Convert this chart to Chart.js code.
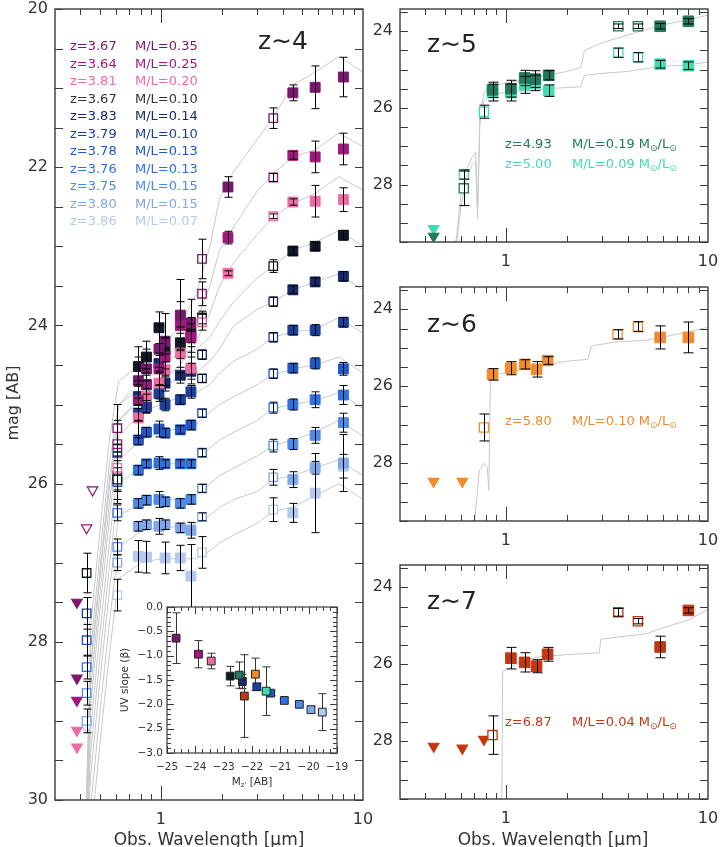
<!DOCTYPE html>
<html>
<head>
<meta charset="utf-8">
<script src="https://cdn.jsdelivr.net/npm/chart.js@4.4.1/dist/chart.umd.min.js"></script>
<style>
  body { margin: 0; background: #fff; width: 723px; height: 847px; overflow: hidden; position: relative; }
  canvas { position: absolute; }
</style>
</head>
<body>
<canvas id="z4-chart" width="380" height="847" style="left:0;top:0"></canvas>
<canvas id="z5-chart" width="363" height="278" style="left:360px;top:0"></canvas>
<canvas id="z6-chart" width="363" height="278" style="left:360px;top:278px"></canvas>
<canvas id="z7-chart" width="363" height="291" style="left:360px;top:556px"></canvas>
<canvas id="inset-chart" width="245" height="200" style="left:110px;top:596px"></canvas>
<script>
// ---- z~4 : 11 galaxies ----
const z4Redshift = [3.67, 3.64, 3.81, 3.67, 3.83, 3.79, 3.78, 3.76, 3.75, 3.80, 3.86];
const z4MtoL     = [0.35, 0.25, 0.20, 0.10, 0.14, 0.10, 0.13, 0.13, 0.15, 0.15, 0.07];
const z4Colors   = ['#7a1670','#a3167f','#f06aa6','#101828','#15296b','#1b3f9e','#1f58c9','#2f70e0','#4b8ae8','#7ea7ec','#b3c9f1'];

const z4FilledBands = [0.775, 0.85, 0.98, 1.05, 1.25, 1.41, 2.15, 4.5, 5.8, 8.0];
const z4Filled = [
  [24.70, 24.55, 24.30, 24.20, 23.87, 23.97, 22.25, 21.06, 20.99, 20.86],
  [24.95, 24.75, 24.55, 24.40, 24.00, 24.15, 22.89, 21.85, 21.87, 21.77],
  [25.17, 24.90, 24.73, 24.56, 24.35, 24.54, 23.34, 22.44, 22.43, 22.41],
  [24.52, 24.40, 24.03, 24.31, 24.22, 24.10, null, 23.06, 23.00, 22.86],
  [24.90, 24.75, 24.48, 24.73, 24.63, 24.58, null, 23.55, 23.45, 23.38],
  [25.11, 25.03, 24.86, 25.00, 24.94, 24.84, null, 24.06, 24.06, 23.96],
  [25.45, 25.35, 25.31, 25.36, 25.32, 25.26, null, 24.54, 24.48, 24.55],
  [25.83, 25.75, 25.74, 25.75, 25.75, 25.75, null, 25.00, 24.94, 24.88],
  [26.25, 26.21, 26.20, 26.23, 26.25, 26.20, null, 25.50, 25.39, 25.23],
  [26.54, 26.52, 26.54, 26.52, 26.56, 26.59, null, 25.95, 25.80, 25.74],
  [26.92, 26.93, null, 26.94, 26.94, 27.17, null, 26.37, 26.12, 25.78]
];
const z4FilledErr = [
  [0.30, 0.25, 0.30, 0.35, 0.45, 0.30, 0.13, 0.10, 0.27, 0.25],
  [0.25, 0.20, 0.20, 0.25, 0.30, 0.25, 0.08, 0.05, 0.20, 0.20],
  [0.25, 0.20, 0.20, 0.20, 0.25, 0.20, 0.03, 0.04, 0.20, 0.15],
  [0.25, 0.20, 0.20, 0.15, 0.20, 0.12, null, 0.05, 0.05, 0.06],
  [0.15, 0.12, 0.10, 0.10, 0.10, 0.10, null, 0.05, 0.05, 0.06],
  [0.10, 0.08, 0.10, 0.08, 0.06, 0.08, null, 0.06, 0.07, 0.06],
  [0.06, 0.06, 0.10, 0.06, 0.05, 0.06, null, 0.06, 0.07, 0.08],
  [0.06, 0.05, 0.08, 0.05, 0.05, 0.05, null, 0.07, 0.10, 0.12],
  [0.06, 0.06, 0.10, 0.06, 0.06, 0.06, null, 0.07, 0.10, 0.12],
  [0.06, 0.06, 0.10, 0.06, 0.06, 0.10, null, 0.10, 0.08, 0.36],
  [0.20, 0.20, null, 0.20, 0.16, 0.40, null, 0.12, 0.50, 0.15]
];
const z4OpenBands = [0.43, 0.61, 1.6, 3.6];
const z4Open = [
  [null, 25.30, 23.16, 21.38],
  [null, 25.50, 23.60, 22.13],
  [null, 25.80, 23.96, 22.62],
  [27.13, 25.95, 23.90, 23.25],
  [null, 25.90, 24.37, 23.70],
  [27.64, 25.61, 24.67, 24.15],
  [27.98, 25.98, 25.11, 24.61],
  [28.32, 26.37, 25.61, 25.04],
  [28.65, 26.80, 26.06, 25.52],
  [29.00, 27.00, 26.42, 25.92],
  [null, 27.41, 26.87, 26.33]
];
const z4OpenErr = [
  [null, 0.30, 0.25, 0.13],
  [null, 0.30, 0.15, 0.05],
  [null, 0.30, 0.10, 0.03],
  [0.25, 0.30, 0.08, 0.08],
  [null, 0.30, 0.06, 0.06],
  [0.20, 0.10, 0.05, 0.06],
  [0.20, 0.10, 0.05, 0.06],
  [0.15, 0.10, 0.05, 0.07],
  [0.15, 0.10, 0.05, 0.08],
  [0.15, 0.10, 0.05, 0.10],
  [null, 0.20, 0.20, 0.15]
];
// upper limits
const z4UlLam = [0.385, 0.385, 0.385, 0.385, 0.385];
const z4UlMag = [27.50, 28.46, 28.74, 29.12, 29.33];
const z4UlGal = [0, 0, 1, 2, 2];
const z4UlOpenLam = [0.46, 0.43, 0.43];
const z4UlOpenMag = [26.08, 26.56, 29.08];
const z4UlOpenGal = [0, 1, 10];
// best-fit model spectra
const z4ModelLam = [0.42, 0.45, 0.50, 0.56, 0.62, 0.80, 1.00, 1.25, 1.50, 1.75, 1.95, 2.30, 3.00, 3.60, 4.50, 5.80, 7.60, 10.0];
const z4Models = [
  [31, 27.8, 26.6, 25.4, 24.7, 24.5, 24.3, 24.0, 23.6, 23.0, 22.4, 22.05, 21.65, 21.37, 20.96, 20.8, 20.6, 20.8],
  [31, 28.1, 26.9, 25.7, 25.0, 24.8, 24.5, 24.2, 23.95, 23.5, 23.05, 22.75, 22.3, 22.08, 21.87, 21.78, 21.57, 21.74],
  [31, 28.3, 27.1, 25.9, 25.2, 24.9, 24.7, 24.5, 24.2, 23.85, 23.5, 23.2, 22.85, 22.63, 22.46, 22.33, 22.12, 22.29],
  [31, 28.4, 27.2, 26.0, 25.0, 24.7, 24.5, 24.35, 24.3, 24.15, 23.95, 23.7, 23.4, 23.25, 23.05, 22.95, 22.8, 23.0],
  [31, 28.6, 27.4, 26.2, 25.2, 24.95, 24.8, 24.65, 24.6, 24.45, 24.3, 24.0, 23.8, 23.7, 23.55, 23.45, 23.35, 23.55],
  [31, 28.8, 27.6, 26.4, 25.4, 25.1, 25.0, 24.9, 24.85, 24.75, 24.6, 24.45, 24.3, 24.15, 24.08, 24.05, 23.9, 24.1],
  [31, 29.1, 27.9, 26.7, 25.7, 25.45, 25.35, 25.3, 25.25, 25.1, 25.0, 24.9, 24.75, 24.62, 24.55, 24.5, 24.4, 24.6],
  [31, 29.4, 28.2, 27.0, 26.0, 25.8, 25.75, 25.75, 25.7, 25.55, 25.45, 25.35, 25.2, 25.05, 25.0, 24.95, 24.85, 25.05],
  [31, 29.7, 28.5, 27.3, 26.4, 26.25, 26.2, 26.2, 26.15, 26.0, 25.9, 25.8, 25.65, 25.52, 25.45, 25.35, 25.2, 25.4],
  [31, 30.1, 28.9, 27.7, 26.8, 26.6, 26.55, 26.55, 26.5, 26.4, 26.3, 26.2, 26.1, 25.95, 25.9, 25.8, 25.7, 25.9],
  [31, 30.5, 29.3, 28.1, 27.2, 27.0, 26.95, 26.95, 26.95, 26.85, 26.75, 26.65, 26.5, 26.35, 26.3, 26.15, 26.0, 26.2]
];

// ---- z~5 : 2 galaxies ----
const z5Redshift = [4.93, 5.00];
const z5MtoL = [0.19, 0.09];
const z5Colors = ['#1f7a5c', '#3fdcb3'];
const z5FilledBands = [0.86, 1.06, 1.24, 1.40, 1.63, 5.8, 8.0];
const z5Filled = [[25.53, 25.50, 25.22, 25.25, 25.15, 23.87, 23.74], [25.60, 25.60, 25.40, 25.35, 25.55, 24.86, 24.90]];
const z5FilledErr = [[0.20, 0.22, 0.20, 0.22, 0.12, 0.07, 0.07], [0.22, 0.22, 0.22, 0.20, 0.15, 0.10, 0.10]];
const z5OpenBands = [0.62, 0.78, 3.6, 4.5];
const z5Open = [[28.10, null, 23.87, 23.87], [27.74, 26.10, 24.56, 24.68]];
const z5OpenErr = [[0.45, null, 0.06, 0.06], [0.12, 0.17, 0.12, 0.12]];
const z5UlBands = [0.44];
const z5Ul = [[29.35], [29.15]];
const z5ModelLam = [0.53, 0.57, 0.60, 0.64, 0.68, 0.71, 0.725, 0.745, 0.78, 0.86, 1.0, 1.3, 1.6, 2.0, 2.35, 2.45, 3.0, 4.0, 5.8, 8.0, 10.0];
const z5Models = [
  [30, 29.4, 28.3, 27.6, 27.3, 27.15, 28.6, 26.2, 25.6, 25.45, 25.35, 25.25, 25.15, 25.05, 24.95, 24.5, 24.3, 24.1, 23.85, 23.7, 23.58],
  [30, 29.6, 28.6, 27.8, 27.5, 27.4, 28.9, 26.4, 25.8, 25.65, 25.6, 25.55, 25.5, 25.47, 25.45, 25.15, 25.1, 25.05, 24.92, 24.88, 24.8]
];

// ---- z~6 ----
const z6Redshift = 5.80, z6MtoL = 0.10, z6Color = '#f48a2a';
const z6FilledBands = [0.86, 1.06, 1.24, 1.42, 1.61, 5.8, 8.0];
const z6Filled = [25.69, 25.53, 25.43, 25.56, 25.33, 24.73, 24.73];
const z6FilledErr = [0.15, 0.17, 0.12, 0.20, 0.10, 0.30, 0.40];
const z6OpenBands = [0.78, 3.57, 4.5];
const z6Open = [27.07, 24.65, 24.45];
const z6OpenErr = [0.35, 0.12, 0.13];
const z6UlBands = [0.44, 0.61];
const z6Ul = [28.47, 28.47];
const z6ModelLam = [0.69, 0.71, 0.74, 0.78, 0.81, 0.825, 0.84, 0.86, 1.0, 1.5, 2.0, 2.55, 2.65, 3.5, 5.0, 7.0, 10.0];
const z6Model = [30, 29.2, 28.2, 28.0, 28.1, 28.7, 25.8, 25.7, 25.65, 25.45, 25.35, 25.3, 24.95, 24.85, 24.8, 24.65, 24.47];

// ---- z~7 ----
const z7Redshift = 6.87, z7MtoL = 0.04, z7Color = '#c4360e';
const z7FilledBands = [1.06, 1.24, 1.42, 1.61, 5.8, 8.0];
const z7Filled = [25.84, 25.95, 26.05, 25.74, 25.55, 24.60];
const z7FilledErr = [0.28, 0.25, 0.17, 0.18, 0.28, 0.07];
const z7OpenBands = [0.86, 3.6, 4.5];
const z7Open = [27.84, 24.65, 24.88];
const z7OpenErr = [0.50, 0.10, 0.07];
const z7UlBands = [0.44, 0.61, 0.78];
const z7Ul = [28.13, 28.18, 27.95];
const z7ModelLam = [0.955, 0.965, 1.0, 1.2, 1.5, 2.0, 2.9, 2.95, 3.5, 5.0, 6.0, 8.0, 10.0];
const z7Model = [30, 26.2, 26.15, 25.9, 25.8, 25.75, 25.7, 25.35, 25.3, 25.2, 25.05, 24.85, 24.57];

// ---- inset: UV slope vs M ----
const insetMag  = [-24.68, -23.89, -23.44, -22.77, -22.45, -22.34, -22.27, -21.88, -21.83, -21.50, -21.34, -20.86, -20.33, -19.92, -19.52];
const insetBeta = [-0.64, -0.97, -1.11, -1.42, -1.40, -1.53, -1.83, -1.38, -1.64, -1.73, -1.77, -1.92, -2.00, -2.11, -2.16];
const insetErr  = [0.52, 0.28, 0.16, 0.20, 0.27, 0.15, 0.85, 0.33, 0.07, 0.50, 0.05, 0.05, 0.05, 0.07, 0.38];
const insetSrc  = ['z4-0','z4-1','z4-2','z4-3','z5-0','z4-4','z7','z6','z4-5','z5-1','z4-6','z4-7','z4-8','z4-9','z4-10'];

// ---------- helpers ----------
const FONT = 'DejaVu Sans';
const TEXT = '#333';
const MODEL = '#c9c9c9';

function colorOf(src) {
  if (src === 'z6') return z6Color;
  if (src === 'z7') return z7Color;
  const [p, i] = src.split('-');
  return p === 'z4' ? z4Colors[+i] : z5Colors[+i];
}

function pts(lams, mags, errs) {
  const out = [];
  lams.forEach((l, i) => { if (mags[i] != null) out.push({ x: l, y: mags[i], e: errs ? errs[i] : null }); });
  return out;
}
function lineSet(lams, mags) {
  return { data: pts(lams, mags), showLine: true, pointRadius: 0, borderColor: MODEL, borderWidth: 1, order: 3 };
}
function filledSet(data, col, r, cap) {
  return { data, pointStyle: 'rect', pointRadius: r, pointBackgroundColor: col, pointBorderColor: col,
           pointBorderWidth: 1, errColor: '#000', cap, order: 1 };
}
function openSet(data, col, r, cap) {
  return { data, pointStyle: 'rect', pointRadius: r, pointBackgroundColor: '#fff', pointBorderColor: col,
           pointBorderWidth: 1.3, errColor: '#000', cap, order: 1 };
}
function ulSet(data, col, r, open) {
  return { data, pointStyle: 'triangle', pointRotation: 180, pointRadius: r,
           pointBackgroundColor: open ? '#fff' : col, pointBorderColor: col, pointBorderWidth: 1.2, order: 1 };
}

const errorBars = {
  id: 'errorBars',
  draw(chart, behind) {
    const { ctx, chartArea, scales: { y } } = chart;
    ctx.save();
    ctx.beginPath();
    ctx.rect(chartArea.left, chartArea.top, chartArea.width, chartArea.height);
    ctx.clip();
    chart.data.datasets.forEach((ds, di) => {
      if (!ds.errColor || !!ds.errBehind !== behind) return;
      const meta = chart.getDatasetMeta(di);
      ctx.strokeStyle = ds.errColor;
      ctx.lineWidth = 1;
      meta.data.forEach((pt, i) => {
        const d = ds.data[i];
        if (!d.e) return;
        const y1 = y.getPixelForValue(d.y - d.e), y2 = y.getPixelForValue(d.y + d.e);
        const x = Math.round(pt.x) + 0.5, c = ds.cap;
        ctx.beginPath();
        ctx.moveTo(x, y1); ctx.lineTo(x, y2);
        ctx.moveTo(x - c, y1); ctx.lineTo(x + c, y1);
        ctx.moveTo(x - c, y2); ctx.lineTo(x + c, y2);
        ctx.stroke();
      });
    });
    ctx.restore();
  },
  beforeDatasetsDraw(chart) { this.draw(chart, true); },
  afterDatasetsDraw(chart) { this.draw(chart, false); }
};

function framePlugin(cfg) {
  return {
    id: 'frameTicks',
    beforeDraw(chart) {
      if (!cfg.fill) return;
      const { ctx, chartArea: a } = chart;
      ctx.save(); ctx.fillStyle = '#fff'; ctx.fillRect(a.left, a.top, a.width, a.height); ctx.restore();
    },
    afterDraw(chart) {
      const { ctx, chartArea: { left, right, top, bottom }, scales: { x, y } } = chart;
      ctx.save();
      ctx.strokeStyle = '#3a3a3a';
      ctx.lineWidth = cfg.lw;
      ctx.strokeRect(left, top, right - left, bottom - top);
      ctx.lineWidth = 1;
      ctx.beginPath();
      cfg.xTicks.forEach(([v, len]) => {
        const px = Math.round(x.getPixelForValue(v)) + 0.5;
        ctx.moveTo(px, bottom); ctx.lineTo(px, bottom - len);
        ctx.moveTo(px, top); ctx.lineTo(px, top + len);
      });
      cfg.yTicks.forEach(([v, len]) => {
        const py = Math.round(y.getPixelForValue(v)) + 0.5;
        ctx.moveTo(left, py); ctx.lineTo(left + len, py);
        ctx.moveTo(right, py); ctx.lineTo(right - len, py);
      });
      ctx.stroke();
      ctx.restore();
    }
  };
}

function textPlugin(items) {
  return {
    id: 'panelText',
    afterDraw(chart) {
      const ctx = chart.ctx;
      items.forEach(it => {
        ctx.save();
        ctx.fillStyle = it.color || TEXT;
        ctx.textBaseline = 'middle';
        ctx.textAlign = 'left';
        ctx.translate(it.x, it.y);
        if (it.rot) ctx.rotate(it.rot);
        const parts = it.parts || [{ t: it.text }];
        const fontOf = p => (p.sub ? it.subFont : it.font);
        let total = 0;
        parts.forEach(p => { ctx.font = fontOf(p); total += ctx.measureText(p.t).width; });
        let cx = it.center ? -total / 2 : 0;
        parts.forEach(p => {
          ctx.font = fontOf(p);
          ctx.fillText(p.t, cx, p.sub ? it.subDy : 0);
          cx += ctx.measureText(p.t).width;
        });
        ctx.restore();
      });
    }
  };
}

function logTicks(lo, hi) {
  const t = [];
  for (const d of [0.1, 1]) for (let k = 1; k <= 9; k++) {
    const v = +(k * d).toFixed(2);
    if (v > lo && v < hi) t.push([v, k === 1 ? 14 : 6]);
  }
  return t;
}
function linTicks(lo, hi, step, len) {
  const t = [];
  for (let v = Math.ceil(lo / step) * step; v <= hi + 1e-9; v += step) t.push([+v.toFixed(3), len]);
  return t;
}

function sedPanel(id, o) {
  return new Chart(document.getElementById(id), {
    type: 'scatter',
    data: { datasets: o.datasets },
    options: {
      responsive: false, animation: false, devicePixelRatio: 1, events: [],
      layout: { padding: { left: 0, right: o.padRight, top: 9, bottom: 0 } },
      scales: {
        x: {
          type: 'logarithmic', min: 0.3, max: 10, bounds: 'data',
          grid: { display: false, drawTicks: false, tickLength: 0 }, border: { display: false },
          afterBuildTicks: s => { s.ticks = [{ value: 1 }, { value: 10 }]; },
          afterFit: s => { s.height = o.xHeight; s.paddingLeft = 0; s.paddingRight = 0; },
          ticks: { autoSkip: false, maxRotation: 0, padding: 10, color: TEXT, font: { family: FONT, size: 16 },
                   callback: v => (v === 1 || v === 10 ? String(v) : '') }
        },
        y: {
          type: 'linear', min: o.yMin, max: o.yMax, reverse: true, bounds: 'data',
          grid: { display: false, drawTicks: false, tickLength: 0 }, border: { display: false },
          afterBuildTicks: s => { s.ticks = o.yLabels.map(v => ({ value: v })); },
          afterFit: s => { s.width = o.yWidth; s.paddingTop = 0; s.paddingBottom = 0; },
          ticks: { padding: 7, color: TEXT, font: { family: FONT, size: 16 } }
        }
      },
      plugins: { legend: { display: false }, tooltip: { enabled: false } }
    },
    plugins: [errorBars,
      framePlugin({ lw: 1.4, xTicks: logTicks(0.3, 10), yTicks: linTicks(o.yMin, o.yMax, 0.5, 8) }),
      textPlugin(o.texts)]
  });
}

// ---------- z~4 panel ----------
const z4Sets = [];
z4Colors.forEach((col, g) => {
  z4Sets.push(filledSet(pts(z4FilledBands, z4Filled[g], z4FilledErr[g]), col, 7, 4));
  z4Sets.push(openSet(pts(z4OpenBands, z4Open[g], z4OpenErr[g]), col, 6, 4));
});
z4UlLam.forEach((l, i) => z4Sets.push(ulSet([{ x: l, y: z4UlMag[i] }], z4Colors[z4UlGal[i]], 6, false)));
z4UlOpenLam.forEach((l, i) => z4Sets.push(ulSet([{ x: l, y: z4UlOpenMag[i] }], z4Colors[z4UlOpenGal[i]], 6, true)));
z4Models.forEach(m => z4Sets.push(lineSet(z4ModelLam, m)));

const z4Texts = [{ text: 'z\u223C4', x: 258, y: 42, font: `25px ${FONT}`, color: '#222' },
  { text: 'mag [AB]', x: 14, y: 403, rot: -Math.PI / 2, center: true, font: `16px ${FONT}` },
  { text: 'Obs. Wavelength [\u03BCm]', x: 209, y: 841, center: true, font: `17px ${FONT}` }];
z4Redshift.forEach((z, i) => {
  const col = i === 3 ? '#333' : z4Colors[i];
  z4Texts.push({ text: `z=${z.toFixed(2)}`, x: 70, y: 47 + 17.5 * i, font: `13px ${FONT}`, color: col });
  z4Texts.push({ text: `M/L=${z4MtoL[i].toFixed(2)}`, x: 135, y: 47 + 17.5 * i, font: `13px ${FONT}`, color: col });
});

sedPanel('z4-chart', { datasets: z4Sets, yMin: 20, yMax: 30, yLabels: [20, 22, 24, 26, 28, 30],
  yWidth: 55, xHeight: 47, padRight: 17, texts: z4Texts });

// ---------- right panels ----------
function mlText(z, ml, col, y) {
  return [
    { text: `z=${z.toFixed(2)}`, x: 145, y, font: `13px ${FONT}`, color: col },
    { parts: [{ t: `M/L=${ml.toFixed(2)} M` }, { t: '\u2299', sub: true }, { t: '/L' }, { t: '\u2299', sub: true }],
      x: 212, y, font: `13px ${FONT}`, subFont: `9px ${FONT}`, subDy: 4, color: col }
  ];
}
const RMIN = 23.42, RMAX = 29.5, RLAB = [24, 26, 28];

const z5Sets = [];
z5Colors.forEach((col, g) => {
  z5Sets.push(filledSet(pts(z5FilledBands, z5Filled[g], z5FilledErr[g]), col, 7.5, 5));
  z5Sets.push(openSet(pts(z5OpenBands, z5Open[g], z5OpenErr[g]), col, 6.5, 5));
  z5Sets.push(ulSet(pts(z5UlBands, z5Ul[g]), col, 6, false));
});
z5Models.forEach(m => z5Sets.push(lineSet(z5ModelLam, m)));
sedPanel('z5-chart', { datasets: z5Sets, yMin: RMIN, yMax: RMAX, yLabels: RLAB, yWidth: 40, xHeight: 36, padRight: 15,
  texts: [{ text: 'z\u223C5', x: 67, y: 45, font: `25px ${FONT}`, color: '#222' },
          ...mlText(z5Redshift[0], z5MtoL[0], z5Colors[0], 145),
          ...mlText(z5Redshift[1], z5MtoL[1], z5Colors[1], 165)] });

sedPanel('z6-chart', {
  datasets: [filledSet(pts(z6FilledBands, z6Filled, z6FilledErr), z6Color, 7.5, 5),
             openSet(pts(z6OpenBands, z6Open, z6OpenErr), z6Color, 6.5, 5),
             ulSet(pts(z6UlBands, z6Ul), z6Color, 6, false),
             lineSet(z6ModelLam, z6Model)],
  yMin: RMIN, yMax: RMAX, yLabels: RLAB, yWidth: 40, xHeight: 35, padRight: 15,
  texts: [{ text: 'z\u223C6', x: 67, y: 47, font: `25px ${FONT}`, color: '#222' },
          ...mlText(z6Redshift, z6MtoL, z6Color, 144)] });

sedPanel('z7-chart', {
  datasets: [filledSet(pts(z7FilledBands, z7Filled, z7FilledErr), z7Color, 7.5, 5),
             openSet(pts(z7OpenBands, z7Open, z7OpenErr), z7Color, 6.5, 5),
             ulSet(pts(z7UlBands, z7Ul), z7Color, 6, false),
             lineSet(z7ModelLam, z7Model)],
  yMin: RMIN, yMax: RMAX, yLabels: RLAB, yWidth: 40, xHeight: 48, padRight: 15,
  texts: [{ text: 'z\u223C7', x: 67, y: 46, font: `25px ${FONT}`, color: '#222' },
          ...mlText(z7Redshift, z7MtoL, z7Color, 167),
          { text: 'Obs. Wavelength [\u03BCm]', x: 193, y: 285, center: true, font: `17px ${FONT}` }] });

// ---------- inset ----------
const insetSets = insetMag.map((m, i) => ({
  data: [{ x: m, y: insetBeta[i], e: insetErr[i] }], pointStyle: 'rect', pointRadius: 5.5,
  pointBackgroundColor: colorOf(insetSrc[i]), pointBorderColor: '#222', pointBorderWidth: 1,
  errColor: '#333', errBehind: true, cap: 4
}));
new Chart(document.getElementById('inset-chart'), {
  type: 'scatter',
  data: { datasets: insetSets },
  options: {
    responsive: false, animation: false, devicePixelRatio: 1, events: [],
    layout: { padding: { left: 0, right: 18, top: 11, bottom: 0 } },
    scales: {
      x: {
        type: 'linear', min: -25, max: -19, bounds: 'data',
        grid: { display: false, drawTicks: false, tickLength: 0 }, border: { display: false },
        afterBuildTicks: s => { s.ticks = [-25, -24, -23, -22, -21, -20, -19].map(v => ({ value: v })); },
        afterFit: s => { s.height = 43; s.paddingLeft = 0; s.paddingRight = 0; },
        ticks: { padding: 8, color: TEXT, font: { family: FONT, size: 10.5 }, callback: v => String(v).replace('-', '\u2212') }
      },
      y: {
        type: 'linear', min: -3, max: 0, bounds: 'data',
        grid: { display: false, drawTicks: false, tickLength: 0 }, border: { display: false },
        afterBuildTicks: s => { s.ticks = [-3, -2.5, -2, -1.5, -1, -0.5, 0].map(v => ({ value: v })); },
        afterFit: s => { s.width = 57; s.paddingTop = 0; s.paddingBottom = 0; },
        ticks: { padding: 4, color: TEXT, font: { family: FONT, size: 10.5 }, callback: v => v.toFixed(1).replace('-', '\u2212') }
      }
    },
    plugins: { legend: { display: false }, tooltip: { enabled: false } }
  },
  plugins: [errorBars,
    framePlugin({ fill: true, lw: 1.2, xTicks: linTicks(-25, -19, 0.25, 4).concat(linTicks(-25, -19, 1, 7)),
                  yTicks: linTicks(-3, 0, 0.1, 4).concat(linTicks(-3, 0, 0.5, 7)) }),
    textPlugin([
      { parts: [{ t: 'UV slope (' }, { t: '\u03B2', b: true }, { t: ')' }], x: 15, y: 84, rot: -Math.PI / 2, center: true, font: `10.5px ${FONT}` },
      { parts: [{ t: 'M' }, { t: "z'", sub: true }, { t: ' [AB]' }], x: 142, y: 186, center: true,
        font: `10.5px ${FONT}`, subFont: `7px ${FONT}`, subDy: 3 }
    ])]
});
</script>
</body>
</html>
